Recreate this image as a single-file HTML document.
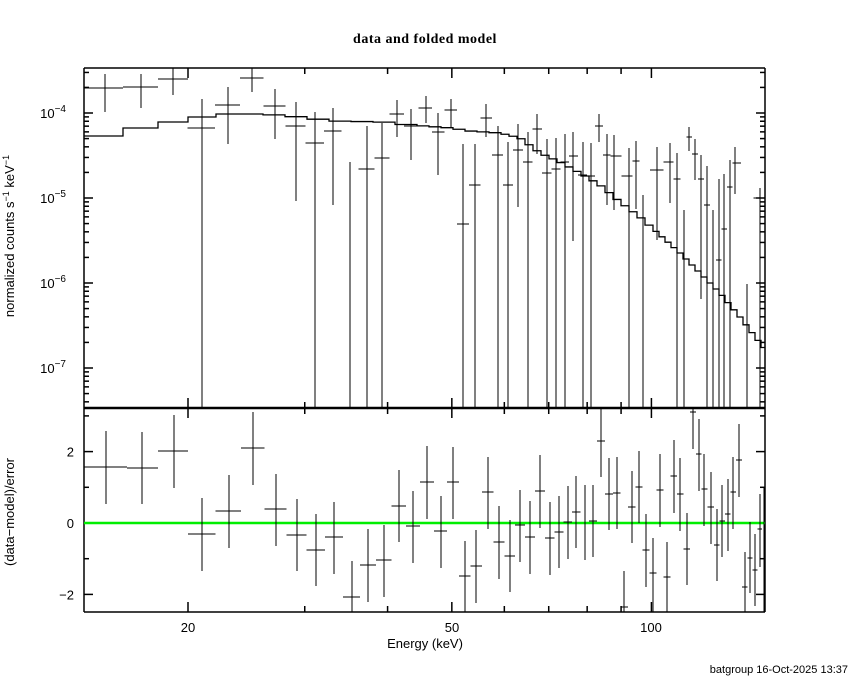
<!DOCTYPE html>
<html><head><meta charset="utf-8"><style>
body{margin:0;background:#fff;}
svg{display:block;}
text{font-family:"Liberation Sans",sans-serif;fill:#000;}
</style></head><body>
<svg id="s" width="850" height="680" xmlns="http://www.w3.org/2000/svg">
<text x="425" y="43" text-anchor="middle" style="font-family:'Liberation Serif',serif;font-size:14px;font-weight:bold;letter-spacing:0.5px">data and folded model</text>
<text transform="translate(14,236) rotate(-90)" text-anchor="middle" font-size="13">normalized counts s<tspan dy="-5" font-size="9">−1</tspan><tspan dy="5"> keV</tspan><tspan dy="-5" font-size="9">−1</tspan></text>
<text transform="translate(14,512) rotate(-90)" text-anchor="middle" font-size="13">(data−model)/error</text>
<text x="425" y="648" text-anchor="middle" font-size="13">Energy (keV)</text>
<text x="848" y="673" text-anchor="end" font-size="11">batgroup 16-Oct-2025 13:37</text>
<g id="g" stroke="#000" fill="none" stroke-width="1"></g>
</svg>
<script>
var g=document.getElementById('g'),s=document.getElementById('s');
var L=84,R=765,T=68,M=408,B=612;
function X(e){return 188+(Math.log10(e)-Math.log10(20))*663;}
function ln(x1,y1,x2,y2,w,c){var l=document.createElementNS('http://www.w3.org/2000/svg','line');l.setAttribute('x1',x1);l.setAttribute('y1',y1);l.setAttribute('x2',x2);l.setAttribute('y2',y2);if(w)l.setAttribute('stroke-width',w);if(c)l.setAttribute('stroke',c);g.appendChild(l);}
function tx(x,y,t,a,sup){var e=document.createElementNS('http://www.w3.org/2000/svg','text');e.setAttribute('x',x);e.setAttribute('y',y);e.setAttribute('font-size','13');e.setAttribute('text-anchor',a||'middle');e.innerHTML=t;s.appendChild(e);}
// frames
ln(L,T,R,T,1.5);ln(L,T,L,B,1.5);ln(R,T,R,B,1.5);ln(L,B,R,B,1.5);ln(L,M,R,M,2.5);
// x ticks
[20,30,40,50,60,70,80,90,100].forEach(function(e){var x=X(e);var maj=(e==20||e==50||e==100);var len=maj?10:6;
ln(x,T,x,T+len,1.5);ln(x,M,x,M-len,1.5);ln(x,M,x,M+len,1.5);ln(x,B,x,B-len,1.5);});
tx(188,632,'20');tx(452,632,'50');tx(651,632,'100');
// y ticks top
for(var d=-8;d<=-3;d++)for(var k=1;k<10;k++){var v=d+Math.log10(k);var y=113-(v+4)*85;if(y<T||y>M)continue;var len=k==1?9:5;ln(L,y,L+len,y,1.5);ln(R,y,R-len,y,1.5);}
[[-4,113],[-5,198],[-6,283],[-7,368]].forEach(function(p){tx(66,p[1]+5,'10<tspan dy="-6" font-size="10">−'+(-p[0])+'</tspan>','end');});
// bottom y ticks
[-2,0,2].forEach(function(v){var y=523-v*35.7;ln(L,y,L+9,y,1.5);ln(R,y,R-9,y,1.5);tx(74,y+5,v==0?'0':(v<0?'−2':'2'),'end');});
[-1,1,3].forEach(function(v){var y=523-v*35.7;ln(L,y,L+5,y,1.5);ln(R,y,R-5,y,1.5);});
// model
var steps=[[84,123,136],[123,158,128],[158,188,122],[188,216,117],[216,263,114]];
var an=[[263,114],[300,117],[333,121],[383,122],[411,125],[451,128],[470,131],[500,133],[520,138],[540,153],[560,162],[580,173],[600,185],[620,202],[640,217],[660,235],[680,253],[700,273],[720,293],[740,317],[760,343],[766,352]];
function ip(x){for(var i=0;i<an.length-1;i++)if(x<=an[i+1][0]){var a=an[i],b=an[i+1];return a[1]+(b[1]-a[1])*(x-a[0])/(b[0]-a[0]);}return an[an.length-1][1];}
var x0=263;while(x0<765){var w=x0<400?22:(x0<500?12:(x0<650?8:6));var x1=Math.min(765,x0+w);steps.push([x0,x1,ip((x0+x1)/2)]);x0=x1;}
var d='M'+steps[0][0]+','+steps[0][2];steps.forEach(function(st,i){if(i>0)d+='L'+st[0]+','+st[2];d+='L'+st[1]+','+st[2];});
var p=document.createElementNS('http://www.w3.org/2000/svg','path');p.setAttribute('d',d);p.setAttribute('stroke-width','1.3');g.appendChild(p);
var td=[[105,88,74,112],[141,87,74,108],[173,79,68,95],[202,128,99,408],[228,105,87,144],[252,78,68,92],[275,106,89,139],[296,126,102,201],[315,143,112,408],[333,131,108,205],[350,null,162,408],[367,169,126,408],[382,158,123,408],[397,114,100,137],[411,126,109,160],[426,108,96,123],[438,132,113,175],[451,110,99,127],[463,224,144,408],[475,185,144,408],[486,118,104,137],[498,155,126,408],[508,185,142,408],[518,150,124,207],[528,162,132,408],[537,129,114,154],[547,173,139,408],[556,169,138,408],[565,162,134,408],[573,156,132,241],[583,175,142,408],[591,176,143,408],[599,126,114,142],[607,155,134,205],[614,156,135,210],[629,176,148,408],[636,161,141,209],[643,null,195,408],[657,170,147,240],[670,162,143,203],[677,179,153,408],[684,null,210,408],[689,137,127,151],[695,154,139,180],[701,179,155,299],[707,205,166,408],[713,null,210,408],[719,260,179,408],[724,229,174,408],[730,187,160,408],[735,163,147,194],[747,null,284,408],[760,198,188,408]];
td[0].push(84,123);td[1].push(123,158);td[2].push(158,188);
function draw(arr,clipT,clipB){for(var i=0;i<arr.length;i++){var a=arr[i];var l,r;if(a.length>4){l=a[4];r=a[5];}else{var pl=i>0?arr[i-1][0]:a[0]-10,nx=i<arr.length-1?arr[i+1][0]:Math.min(765,a[0]+5);l=(a[0]+pl)/2;r=Math.min(765,(a[0]+nx)/2);}
ln(a[0],Math.max(clipT,a[2]),a[0],Math.min(clipB,a[3]));if(a[1]!==null&&a[1]>=clipT&&a[1]<=clipB)ln(l,a[1],r,a[1]);}}
draw(td,T,M);
ln(L,523,R,523,2.5,'#00ee00');
var rd=[[106,467,431,504,84,127],[142,468,432,504,127,158],[174,451,415,488,158,188],[202,534,498,571],[229,511,475,548],[253,448,412,485],[276,509,474,546],[297,535,499,571],[316,550,514,586],[334,537,502,574],[352,597,561,612],[368,565,529,602],[384,560,525,597],[399,506,470,542],[413,526,491,563],[427,482,446,519],[441,531,496,568],[453,482,447,519],[465,576,541,612],[476,566,530,603],[488,492,457,529],[499,542,506,579],[510,556,520,592],[520,525,490,562],[530,537,501,574],[540,491,455,528],[550,538,502,575],[559,532,496,568],[568,522,486,559],[576,512,476,548],[585,null,485,560],[593,521,485,557],[601,441,409,477],[609,494,458,530],[617,493,457,529],[624,607,571,612],[632,507,471,543],[639,487,451,523],[646,550,514,587],[653,573,538,612],[660,490,454,527],[667,577,542,612],[674,476,440,513],[680,494,458,531],[687,549,513,585],[693,412,409,449],[699,454,419,491],[704,489,454,526],[711,507,472,544],[717,545,509,581],[722,521,485,557],[728,514,479,551],[733,492,457,529],[739,460,424,497],[745,587,552,612],[750,558,522,593],[755,570,534,606],[760,529,494,567],[764,null,488,612]];
draw(rd,M,B);
</script>
</body></html>
